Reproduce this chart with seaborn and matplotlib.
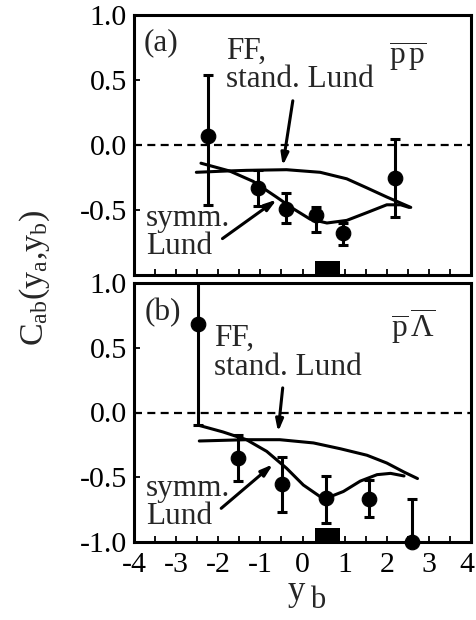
import numpy as np
import pandas as pd
import matplotlib
matplotlib.use("Agg")
import matplotlib.pyplot as plt
import matplotlib.transforms as mtransforms
import seaborn as sns

# ---------------- data ----------------
# panel (a): pbar p
a_x = [-2.24, -1.05, -0.39, 0.32, 0.97, 2.19]
a_y = [0.07, -0.33, -0.49, -0.54, -0.68, -0.25]
a_top = [0.54, -0.19, -0.37, -0.48, -0.60, 0.05]
a_bot = [-0.46, -0.47, -0.60, -0.67, -0.77, -0.55]

a_ff_x = [-2.52, -1.8, -1.33, -0.38, 0.42, 1.05, 1.53, 2.0, 2.57]
a_ff_y = [-0.21, -0.20, -0.195, -0.19, -0.21, -0.26, -0.33, -0.40, -0.48]
a_sy_x = [-2.41, -1.73, -1.17, -0.62, -0.22, 0.18, 0.58, 1.05, 1.53, 2.0, 2.33, 2.53]
a_sy_y = [-0.14, -0.20, -0.28, -0.40, -0.49, -0.57, -0.60, -0.58, -0.52, -0.46, -0.46, -0.48]

# panel (b): pbar Lambdabar
b_x = [-2.47, -1.53, -0.48, 0.56, 1.58, 2.61]
b_y = [0.68, -0.35, -0.55, -0.66, -0.67, -1.0]
b_top = [1.3, -0.17, -0.34, -0.49, -0.52, -0.67]
b_bot = [-0.10, -0.53, -0.77, -0.85, -0.81, -1.3]

b_ff_x = [-2.45, -1.33, -0.54, 0.26, 0.90, 1.53, 2.0, 2.41, 2.73]
b_ff_y = [-0.22, -0.21, -0.21, -0.235, -0.28, -0.33, -0.39, -0.46, -0.51]
b_sy_x = [-2.45, -1.89, -1.33, -0.85, -0.38, 0.02, 0.42, 0.58, 0.97, 1.37, 1.77, 2.09, 2.41]
b_sy_y = [-0.10, -0.15, -0.21, -0.30, -0.43, -0.56, -0.65, -0.66, -0.61, -0.53, -0.48, -0.47, -0.49]

rect_x = [0.3, 0.9]
rect_y = [-1.0, -0.89]

x_ticks = [-4, -3, -2, -1, 0, 1, 2, 3, 4]
x_ticklabels = ["-4", "-3", "-2", "-1", "0", "1", "2", "3", "4"]
a_yticks = [1.0, 0.5, 0.0, -0.5]
b_yticks = [1.0, 0.5, 0.0, -0.5, -1.0]

# ---------------- style ----------------
sns.set_style("ticks")
plt.rcParams["font.family"] = ["Liberation Serif", "DejaVu Serif"]
plt.rcParams["mathtext.fontset"] = "custom"
plt.rcParams["mathtext.rm"] = "Liberation Serif"
plt.rcParams["mathtext.it"] = "Liberation Serif"
plt.rcParams["mathtext.cal"] = "Liberation Serif"
plt.rcParams["mathtext.sf"] = "Liberation Serif"

LW = 2.2
fig = plt.figure(figsize=(4.76, 6.2), dpi=100)
ax_a = fig.add_axes([134 / 476, 1 - 275 / 620, 337 / 476, 260 / 620])
ax_b = fig.add_axes([134 / 476, 1 - 542 / 620, 337 / 476, 259 / 620])


def draw_panel(ax, px, py, ptop, pbot, ffx, ffy, syx, syy):
    ax.axhline(0, color="black", lw=1.6, ls=(0, (3.6, 2.4)), zorder=1)
    sns.lineplot(x=ffx, y=ffy, ax=ax, color="black", lw=LW, sort=False,
                 estimator=None, zorder=3)
    sns.lineplot(x=syx, y=syy, ax=ax, color="black", lw=LW, sort=False,
                 estimator=None, zorder=3)
    py_arr = np.array(py)
    yerr = [py_arr - np.array(pbot), np.array(ptop) - py_arr]
    ax.errorbar(px, py, yerr=yerr, fmt="none", ecolor="black", elinewidth=LW,
                capsize=3.5, capthick=LW, zorder=4)
    sns.scatterplot(x=px, y=py, ax=ax, color="black", s=110, edgecolor="black",
                    zorder=5, clip_on=False, legend=False)
    ax.fill_between(rect_x, rect_y[0], rect_y[1], color="black", lw=0, zorder=2)
    ax.set_xlim(-4, 4)
    ax.set_ylim(-1, 1)
    ax.set_xticks(x_ticks)
    ax.set_xticks(np.arange(-3.5, 4, 1.0), minor=True)
    for s in ax.spines.values():
        s.set_linewidth(LW)
        s.set_color("black")
    ax.tick_params(axis="both", which="both", direction="in", width=1.3,
                   length=4, labelsize=21.5, colors="black", top=False, right=False)
    ax.tick_params(axis="y", pad=5)
    ax.tick_params(axis="x", pad=7)
    ax.set_xlabel("")
    ax.set_ylabel("")


draw_panel(ax_a, a_x, a_y, a_top, a_bot, a_ff_x, a_ff_y, a_sy_x, a_sy_y)
draw_panel(ax_b, b_x, b_y, b_top, b_bot, b_ff_x, b_ff_y, b_sy_x, b_sy_y)

ax_a.set_yticks(a_yticks)
ax_a.set_yticklabels(["1.0", "0.5", "0.0", "-0.5"])
ax_a.set_xticklabels([])
ax_b.set_yticks(b_yticks)
ax_b.set_yticklabels(["1.0", "0.5", "0.0", "-0.5", "-1.0"])
ax_b.set_xticklabels(x_ticklabels)
# nudge the last x tick label inward so it stays inside the image
last = ax_b.get_xticklabels()[-1]
last.set_transform(last.get_transform() +
                   mtransforms.ScaledTranslation(-4 / 100, 0, fig.dpi_scale_trans))

arrow = dict(arrowstyle="-|>,head_length=0.7,head_width=0.22", lw=LW,
             color="black", shrinkA=0, shrinkB=0)
TS = 22.5
LS = 0.97
# panel (a) texts
ax_a.text(-3.78, 0.79, "(a)", fontsize=TS, va="center", ha="left")
ax_a.text(-1.82, 0.61, "FF,\nstand. Lund", fontsize=TS, va="center", ha="left",
          linespacing=LS)
ax_a.text(2.05, 0.68, r"$\overline{\rm p\,p}$", fontsize=TS, va="center", ha="left")
ax_a.text(-3.72, -0.675, "symm.\nLund", fontsize=TS, va="center", ha="left",
          linespacing=LS)
ax_a.annotate("", xy=(-0.47, -0.16), xytext=(-0.23, 0.34), arrowprops=arrow)
ax_a.annotate("", xy=(-0.61, -0.42), xytext=(-1.9, -0.72), arrowprops=arrow)

# panel (b) texts
ax_b.text(-3.74, 0.77, "(b)", fontsize=TS, va="center", ha="left")
ax_b.text(-2.1, 0.46, "FF,\nstand. Lund", fontsize=TS, va="center", ha="left",
          linespacing=LS)
ax_b.text(2.1, 0.66, r"$\overline{\rm p}\,\overline{\Lambda}$", fontsize=TS,
          va="center", ha="left")
ax_b.text(-3.72, -0.695, "symm.\nLund", fontsize=TS, va="center", ha="left",
          linespacing=LS)
ax_b.annotate("", xy=(-0.58, -0.15), xytext=(-0.47, 0.19), arrowprops=arrow)
ax_b.annotate("", xy=(-0.70, -0.40), xytext=(-1.93, -0.74), arrowprops=arrow)

fig.text(35 / 476, 1 - 278 / 620,
         r"C$_{\rm ab}$(y$_{\rm a}$,y$_{\rm b}$)", rotation=90, fontsize=24.5,
         ha="center", va="center")
fig.text(296 / 476, 1 - 592 / 620, "y", fontsize=25, ha="center", va="center")
fig.text(318 / 476, 1 - 601 / 620, "b", fontsize=22, ha="center", va="center")

fig.savefig("out.png", dpi=100)
